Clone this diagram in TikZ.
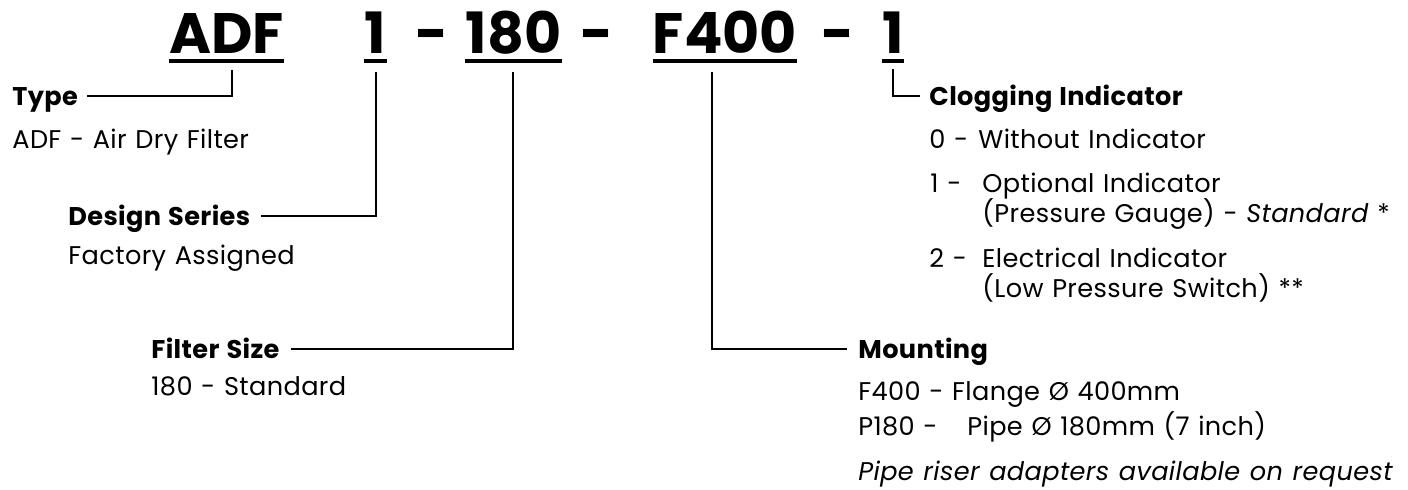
\documentclass[tikz,border=0pt]{standalone}
\usepackage{fontspec}
\setmainfont{Poppins}
\newfontfamily\bodyfont{Poppins}[LetterSpace=1.5,WordSpace=1.2]
\usetikzlibrary{positioning}

\begin{document}
\begin{tikzpicture}[x=0.5pt,y=-0.5pt,
  code/.style={font=\fontsize{28.5}{32}\selectfont\bfseries,inner sep=0pt,anchor=base},
  head/.style={font=\bodyfont\fontsize{12.8}{15}\selectfont\bfseries,inner sep=0pt,anchor=base west,text height=8.8pt,text depth=0pt},
  txt/.style={font=\bodyfont\fontsize{12.8}{15}\selectfont,inner sep=0pt,anchor=base west},
  ul/.style={line width=2pt},
  lead/.style={line width=0.9pt}]
  \useasboundingbox (0,0) rectangle (1408,489);
  % the code
  \node[code] (adf) at (226.5,53) {ADF};
  \node[code] (ser) at (375.5,53) {1};
  \node[code] (da) at (432,53) {-};
  \node[code] (siz) at (513.5,53) {180};
  \node[code] (db) at (597,53) {-};
  \node[code] (mnt) at (725,53) {F400};
  \node[code] (dc) at (838,53) {-};
  \node[code] (clg) at (893,53) {1};
  \foreach \n in {adf,ser,siz,mnt,clg}
    \draw[ul] ([yshift=-4pt]\n.base west) -- ([yshift=-4pt]\n.base east);
  % left column
  \node[head] (type) at (12,105) {Type};
  \node[txt] (typeD) at (12,148) {ADF - Air Dry Filter};
  \node[head] (design) at (68,225) {Design Series};
  \node[txt] (designD) at (68,264) {Factory Assigned};
  \node[head] (size) at (151,358) {Filter Size};
  \node[txt] (sizeD) at (151,395) {180 - Standard};
  % right column
  \node[head] (clog) at (929,105) {Clogging Indicator};
  \node[txt] (c0n) at (929,148) {0 -};
  \node[txt] (c0) at (978,148) {Without Indicator};
  \node[txt] (c1n) at (930,192) {1 -};
  \node[txt] (c1) at (982,192) {Optional Indicator};
  \node[txt] (c1b) at (982,222) {(Pressure Gauge) - \textit{Standard} *};
  \node[txt] (c2n) at (929,267) {2 -};
  \node[txt] (c2) at (982,267) {Electrical Indicator};
  \node[txt] (c2b) at (982,297) {(Low Pressure Switch) **};
  \node[head] (mount) at (858,358) {Mounting};
  \node[txt] (m1) at (858,400) {F400 - Flange Ø 400mm};
  \node[txt] (m2n) at (858,435) {P180 -};
  \node[txt] (m2) at (967,435) {Pipe Ø 180mm (7 inch)};
  \node[txt] (m3) at (858,480) {\textit{Pipe riser adapters available on request}};
  % leaders
  \coordinate (tA) at (232,70);
  \coordinate (tB) at (376,72);
  \coordinate (tC) at (513,72);
  \coordinate (tD) at (712,72);
  \coordinate (tE) at (893,69);
  \draw[lead] (tA) |- ([xshift=4.5pt]type.east);
  \draw[lead] (tB) |- ([xshift=5pt]design.east);
  \draw[lead] (tC) |- ([xshift=5.5pt]size.east);
  \draw[lead] (tD) |- ([xshift=-5.5pt]mount.west);
  \draw[lead] (tE) |- ([xshift=-4.5pt]clog.west);
\end{tikzpicture}
\end{document}
